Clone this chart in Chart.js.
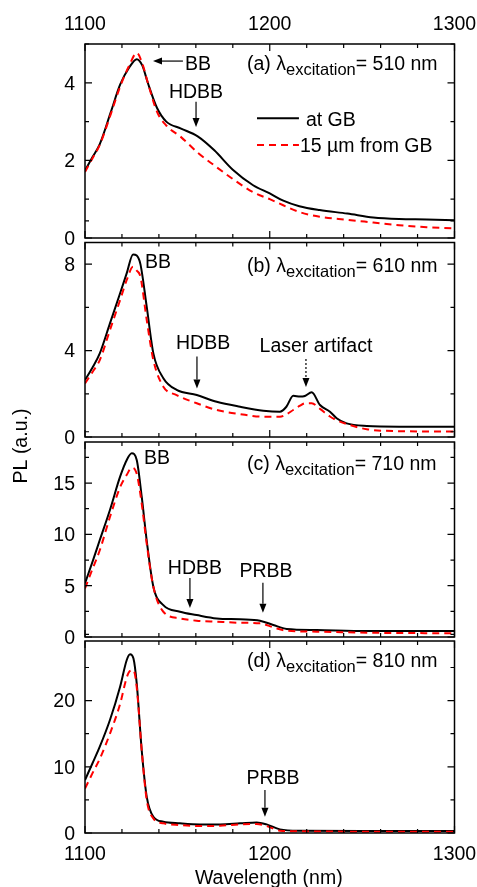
<!DOCTYPE html>
<html>
<head>
<meta charset="utf-8">
<script src="https://cdn.jsdelivr.net/npm/chart.js@4.4.1/dist/chart.umd.min.js"></script>
<style>
  body { margin: 0; background: #fff; }
  canvas { position: absolute; left: 0; top: 0; }
</style>
</head>
<body>
<canvas id="pa" width="477" height="887"></canvas>
<canvas id="pb" width="477" height="887"></canvas>
<canvas id="pc" width="477" height="887"></canvas>
<canvas id="pd" width="477" height="887"></canvas>
<script>
// wavelength (nm) / PL values
const waveA = [1100, 1104, 1108, 1114, 1119, 1124, 1128, 1131, 1134, 1139, 1144, 1152, 1161, 1170, 1180, 1191, 1200, 1207, 1216, 1227, 1242, 1256, 1270, 1285, 1300];
const atGbA = [1.74, 2.08, 2.42, 3.25, 3.95, 4.4, 4.61, 4.45, 4.0, 3.35, 3.0, 2.82, 2.62, 2.26, 1.76, 1.36, 1.15, 0.97, 0.82, 0.72, 0.63, 0.53, 0.49, 0.48, 0.46];
const farA  = [1.70, 2.05, 2.4, 3.2, 3.9, 4.45, 4.77, 4.5, 4.0, 3.25, 2.9, 2.6, 2.2, 1.87, 1.52, 1.18, 1.0, 0.85, 0.67, 0.55, 0.47, 0.4, 0.33, 0.28, 0.25];

const waveB = [1100, 1104, 1108, 1113.5, 1119, 1122.6, 1126, 1128, 1130, 1133.4, 1137, 1142.4, 1149.6, 1160.5, 1171.3, 1184, 1196.5, 1205.5, 1209, 1212.7, 1216.4, 1219, 1222.7, 1227.2, 1232.6, 1236.2, 1241.6, 1252.5, 1270, 1300];
const atGbB = [2.64, 3.2, 3.87, 5.26, 6.65, 7.58, 8.45, 8.4, 8.0, 6.03, 3.87, 2.72, 2.18, 1.94, 1.63, 1.40, 1.22, 1.17, 1.40, 1.91, 1.87, 1.90, 2.07, 1.48, 1.17, 0.87, 0.63, 0.51, 0.48, 0.48];
const farB  = [2.48, 3.0, 3.56, 4.95, 6.34, 7.27, 7.88, 7.7, 7.42, 5.42, 3.56, 2.33, 1.94, 1.56, 1.25, 1.06, 0.94, 0.94, 1.05, 1.25, 1.45, 1.56, 1.56, 1.3, 0.95, 0.78, 0.6, 0.36, 0.27, 0.25];

const waveC = [1100, 1104, 1108, 1113.5, 1119, 1122.6, 1125.3, 1128, 1130.7, 1133.4, 1137, 1142.4, 1151.4, 1160.4, 1171.3, 1183.9, 1194.7, 1201.9, 1209.2, 1225.4, 1252.5, 1300];
const atGbC = [5.23, 7.3, 9.45, 12.38, 15.62, 17.25, 17.9, 17.25, 13.67, 9.4, 4.9, 3.1, 2.46, 2.14, 1.81, 1.72, 1.59, 1.17, 0.78, 0.68, 0.58, 0.58];
const farC  = [4.73, 6.6, 8.45, 11.69, 14.6, 15.8, 16.49, 15.9, 13.0, 9.1, 4.9, 2.46, 1.81, 1.59, 1.49, 1.39, 1.33, 0.94, 0.61, 0.52, 0.42, 0.36];

const waveD = [1100, 1104, 1108, 1113.5, 1119, 1122.6, 1124.4, 1126.2, 1128, 1130.7, 1133.4, 1137, 1142.4, 1151.4, 1162.2, 1173.1, 1183.9, 1192.9, 1198.3, 1205.5, 1216.4, 1250, 1300];
const atGbD = [8.0, 10.5, 13.04, 17.07, 22.1, 26.13, 27.0, 26.4, 22.6, 12.5, 5.5, 2.45, 1.7, 1.46, 1.3, 1.3, 1.46, 1.6, 1.3, 0.55, 0.35, 0.32, 0.3];
const farD  = [6.72, 9.0, 11.2, 15.0, 19.5, 23.5, 24.5, 24.6, 22.0, 12.5, 5.0, 2.2, 1.46, 1.2, 1.05, 1.1, 1.3, 1.35, 1.05, 0.35, 0.25, 0.2, 0.2];

const xTicks = [1100, 1200, 1300];
const yTicksA = [0, 2, 4];
const yTicksB = [0, 4, 8];
const yTicksC = [0, 5, 10, 15];
const yTicksD = [0, 10, 20];

const FONT = '"Liberation Sans", Arial, Helvetica, sans-serif';
const f = s => s + 'px ' + FONT;

function text(ctx, s, px, py, align, size) {
  ctx.font = f(size || 19.5);
  ctx.textAlign = align || 'center';
  ctx.textBaseline = 'middle';
  ctx.fillText(s, px, py + 1.5);
}

function arrow(ctx, x1, y1, x2, y2, dotted) {
  const ang = Math.atan2(y2 - y1, x2 - x1), L = 9, W = 3.5;
  const c = Math.cos(ang), s = Math.sin(ang);
  ctx.lineWidth = 1.2;
  ctx.setLineDash(dotted ? [2, 2] : []);
  ctx.beginPath();
  ctx.moveTo(x1, y1);
  ctx.lineTo(x2 - L * c, y2 - L * s);
  ctx.stroke();
  ctx.setLineDash([]);
  ctx.beginPath();
  ctx.moveTo(x2, y2);
  ctx.lineTo(x2 - L * c + W * s, y2 - L * s - W * c);
  ctx.lineTo(x2 - L * c - W * s, y2 - L * s + W * c);
  ctx.closePath();
  ctx.fill();
}

const framePlugin = {
  id: 'frame',
  afterDatasetsDraw(chart, args, o) {
    const { ctx, chartArea: a, scales: { x, y } } = chart;
    ctx.save();
    ctx.fillStyle = '#000';
    ctx.strokeStyle = '#000';
    ctx.lineWidth = 1.5;
    ctx.strokeRect(a.left, a.top, a.right - a.left, a.bottom - a.top);

    // x ticks, inward on top and bottom
    ctx.lineWidth = 1.2;
    for (let v = 1100; v <= 1300; v += 20) {
      const px = x.getPixelForValue(v);
      const len = v % 100 === 0 ? 7 : 4;
      ctx.beginPath();
      ctx.moveTo(px, a.bottom); ctx.lineTo(px, a.bottom - len);
      ctx.moveTo(px, a.top); ctx.lineTo(px, a.top + len);
      ctx.stroke();
    }
    // y ticks, inward on left and right
    const n = Math.round(y.max / o.minor);
    for (let i = 0; i <= n; i++) {
      const v = i * o.minor;
      const py = y.getPixelForValue(v);
      const len = o.ticks.includes(v) ? 7 : 4;
      ctx.beginPath();
      ctx.moveTo(a.left, py); ctx.lineTo(a.left + len, py);
      ctx.moveTo(a.right, py); ctx.lineTo(a.right - len, py);
      ctx.stroke();
    }
    o.ticks.forEach(v => text(ctx, String(v), a.left - 10, y.getPixelForValue(v), 'right'));

    if (o.top) xTicks.forEach(v => text(ctx, String(v), x.getPixelForValue(v), a.top - 21));
    if (o.bottom) {
      xTicks.forEach(v => text(ctx, String(v), x.getPixelForValue(v), a.bottom + 20));
      text(ctx, 'Wavelength (nm)', (a.left + a.right) / 2 - 1, a.bottom + 44);
      ctx.save();
      ctx.translate(22, 446);
      ctx.rotate(-Math.PI / 2);
      text(ctx, 'PL (a.u.)', 0, -1.5);
      ctx.restore();
    }

    // panel label: (a) λ_excitation = 510 nm
    const lx = x.getPixelForValue(o.label[0]), ly = y.getPixelForValue(o.label[1]) + 1.5;
    ctx.textAlign = 'left';
    ctx.textBaseline = 'middle';
    ctx.font = f(19.5);
    const s1 = o.letter + ' \u03bb';
    ctx.fillText(s1, lx, ly);
    let w = ctx.measureText(s1).width;
    ctx.font = f(16.5);
    ctx.fillText('excitation', lx + w, ly + 6);
    w += ctx.measureText('excitation').width;
    ctx.font = f(19.5);
    ctx.fillText('= ' + o.nm + ' nm', lx + w, ly);

    (o.notes || []).forEach(nt => text(ctx, nt.t, x.getPixelForValue(nt.x), y.getPixelForValue(nt.y), nt.align || 'center'));
    (o.arrows || []).forEach(ar => arrow(ctx,
      x.getPixelForValue(ar[0]), y.getPixelForValue(ar[1]),
      x.getPixelForValue(ar[2]), y.getPixelForValue(ar[3]), ar[4]));

    if (o.legend) {
      const lg = o.legend;
      const x1 = x.getPixelForValue(lg.x1), x2 = x.getPixelForValue(lg.x2);
      let py = y.getPixelForValue(lg.y1);
      ctx.lineWidth = 2;
      ctx.beginPath(); ctx.moveTo(x1, py); ctx.lineTo(x2, py); ctx.stroke();
      text(ctx, 'at GB', x2 + 7, py + 1, 'left');
      py = y.getPixelForValue(lg.y2);
      ctx.strokeStyle = '#ff0000';
      ctx.setLineDash([7, 5]);
      ctx.beginPath(); ctx.moveTo(x1, py); ctx.lineTo(x2, py); ctx.stroke();
      ctx.setLineDash([]);
      text(ctx, '15 \u00b5m from GB', x2 + 1, py, 'left');
    }
    ctx.restore();
  }
};

function makePanel(id, wave, atGb, far, ymax, top, bottom, frame) {
  new Chart(document.getElementById(id), {
    type: 'line',
    data: {
      datasets: [
        {
          label: 'at GB',
          data: wave.map((w, i) => ({ x: w, y: atGb[i] })),
          borderColor: '#000',
          borderWidth: 2,
          pointRadius: 0,
          cubicInterpolationMode: 'monotone',
          order: 1
        },
        {
          label: '15 \u00b5m from GB',
          data: wave.map((w, i) => ({ x: w, y: far[i] })),
          borderColor: '#ff0000',
          borderWidth: 2,
          borderDash: [7, 5],
          pointRadius: 0,
          cubicInterpolationMode: 'monotone',
          order: 0
        }
      ]
    },
    options: {
      responsive: false,
      animation: false,
      layout: { padding: { left: 85, right: 22.5, top: top, bottom: 887 - bottom } },
      scales: {
        x: { type: 'linear', min: 1100, max: 1300, display: false },
        y: { min: 0, max: ymax, display: false }
      },
      plugins: { legend: { display: false }, tooltip: { enabled: false }, frame: frame }
    },
    plugins: [framePlugin]
  });
}

makePanel('pa', waveA, atGbA, farA, 5, 44, 238, {
  ticks: yTicksA, minor: 1, top: true, letter: '(a)', nm: '510', label: [1187.7, 4.51],
  notes: [{ t: 'BB', x: 1161.2, y: 4.51 }, { t: 'HDBB', x: 1160.1, y: 3.79 }],
  arrows: [[1153, 4.56, 1136.8, 4.56], [1160.1, 3.51, 1160.1, 2.86]],
  legend: { x1: 1193.1, x2: 1215.8, y1: 3.085, y2: 2.40 }
});
makePanel('pb', waveB, atGbB, farB, 9, 242.5, 437, {
  ticks: yTicksB, minor: 2, letter: '(b)', nm: '610', label: [1187.7, 7.96],
  notes: [{ t: 'BB', x: 1139.5, y: 8.16 }, { t: 'HDBB', x: 1163.9, y: 4.41 }, { t: 'Laser artifact', x: 1225, y: 4.26 }],
  arrows: [[1160.6, 3.72, 1160.6, 2.25], [1219.6, 3.61, 1219.6, 2.31, true]]
});
makePanel('pc', waveC, atGbC, farC, 19, 442, 637, {
  ticks: yTicksC, minor: 2.5, letter: '(c)', nm: '710', label: [1187.7, 16.96],
  notes: [{ t: 'BB', x: 1139, y: 17.57 }, { t: 'HDBB', x: 1159.5, y: 6.85 }, { t: 'PRBB', x: 1198, y: 6.53 }],
  arrows: [[1156.8, 5.75, 1156.8, 2.83], [1196.3, 5.29, 1196.3, 2.37]]
});
makePanel('pd', waveD, atGbD, farD, 29, 641, 833, {
  ticks: yTicksD, minor: 5, bottom: true, letter: '(d)', nm: '810', label: [1187.7, 26.13],
  notes: [{ t: 'PRBB', x: 1201.8, y: 8.5 }],
  arrows: [[1197.4, 6.5, 1197.4, 2.46]]
});
</script>
</body>
</html>
